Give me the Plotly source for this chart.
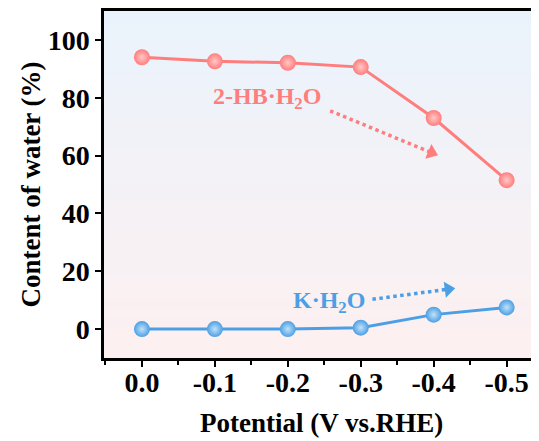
import plotly.graph_objects as go

potential = [0.0, -0.1, -0.2, -0.3, -0.4, -0.5]
hb_water = [94.0, 92.6, 92.1, 90.6, 73.0, 51.5]
k_water = [0.0, 0.0, 0.0, 0.5, 5.0, 7.5]
x_ticks = [0.0, -0.1, -0.2, -0.3, -0.4, -0.5]
x_labels = ["0.0", "-0.1", "-0.2", "-0.3", "-0.4", "-0.5"]
y_ticks = [0, 20, 40, 60, 80, 100]

red_arrow_x = [-0.258, -0.397]
red_arrow_y = [75.5, 61.0]
blue_arrow_x = [-0.316, -0.420]
blue_arrow_y = [10.3, 13.8]

RED = "#FF7D7D"
RED_HL = "#FFC8C8"
BLUE = "#4C9FE4"
BLUE_HL = "#C2E2FA"
FONT = "Liberation Serif"

fig = go.Figure()

# gradient background bands
n = 80
top = (234, 243, 252)
bot = (253, 240, 240)
shapes = []
for i in range(n):
    t = i / (n - 1)
    c = tuple(int(round(top[k] + (bot[k] - top[k]) * t)) for k in range(3))
    shapes.append(dict(type="rect", xref="paper", yref="paper", x0=0, x1=1,
                       y0=max(0, 1 - (i + 1.6) / n), y1=1 - i / n,
                       fillcolor="rgb(%d,%d,%d)" % c, line=dict(width=0), layer="below"))

for y, col, hl in [(hb_water, RED, RED_HL), (k_water, BLUE, BLUE_HL)]:
    fig.add_trace(go.Scatter(
        x=potential, y=y, mode="lines+markers",
        line=dict(color=col, width=3),
        marker=dict(size=16, color=col, line=dict(width=0),
                    gradient=dict(type="radial", color=hl)),
        showlegend=False))

for ax, ay, col in [(red_arrow_x, red_arrow_y, RED), (blue_arrow_x, blue_arrow_y, BLUE)]:
    fig.add_trace(go.Scatter(
        x=ax, y=ay, mode="lines", line=dict(color=col, width=3.5, dash="dot"),
        showlegend=False))
    fig.add_trace(go.Scatter(
        x=ax, y=ay, mode="markers",
        marker=dict(symbol="triangle-up", size=14, color=col, angleref="previous",
                    line=dict(width=0), opacity=[0, 1]),
        showlegend=False))

fig.add_annotation(x=-0.172, y=80.0, text="<b>2-HB·H<sub>2</sub>O</b>", showarrow=False,
                   font=dict(family=FONT, size=24, color=RED))
fig.add_annotation(x=-0.256, y=9.4, text="<b>K·H<sub>2</sub>O</b>", showarrow=False,
                   font=dict(family=FONT, size=24, color=BLUE))
# x-axis title
fig.add_annotation(xref="paper", yref="paper", x=0.5, y=0, yanchor="top", yshift=-48,
                   text="<b>Potential (V vs.RHE)</b>", showarrow=False,
                   font=dict(family=FONT, size=27, color="black"))

fig.update_layout(
    width=531, height=433,
    margin=dict(l=96, r=1, t=3, b=83),
    paper_bgcolor="white", plot_bgcolor="rgba(0,0,0,0)",
    shapes=shapes,
    font=dict(family=FONT, color="black"),
)
fig.update_xaxes(
    range=[0.052, -0.543], tickvals=x_ticks, ticktext=x_labels, automargin=False,
    showgrid=False, zeroline=False, showline=True, linecolor="black", linewidth=2.5,
    mirror=True, ticks="outside", ticklen=6, tickwidth=2, tickcolor="black",
    minor=dict(dtick=0.05, ticks="outside", ticklen=4, tickwidth=2, tickcolor="black", tick0=0.05),
    tickfont=dict(family=FONT, size=28, color="black", weight="bold"),
    ticklabelstandoff=-8,
)
fig.update_yaxes(
    range=[-10, 110], tickvals=y_ticks, automargin=False,
    showgrid=False, zeroline=False, showline=True, linecolor="black", linewidth=2.5,
    mirror=True, ticks="outside", ticklen=6, tickwidth=2, tickcolor="black",
    tickfont=dict(family=FONT, size=28, color="black", weight="bold"),
    title=dict(text="Content of water (%)", font=dict(family=FONT, size=27, weight="bold"), standoff=0),
)

fig.write_html("out.html")
